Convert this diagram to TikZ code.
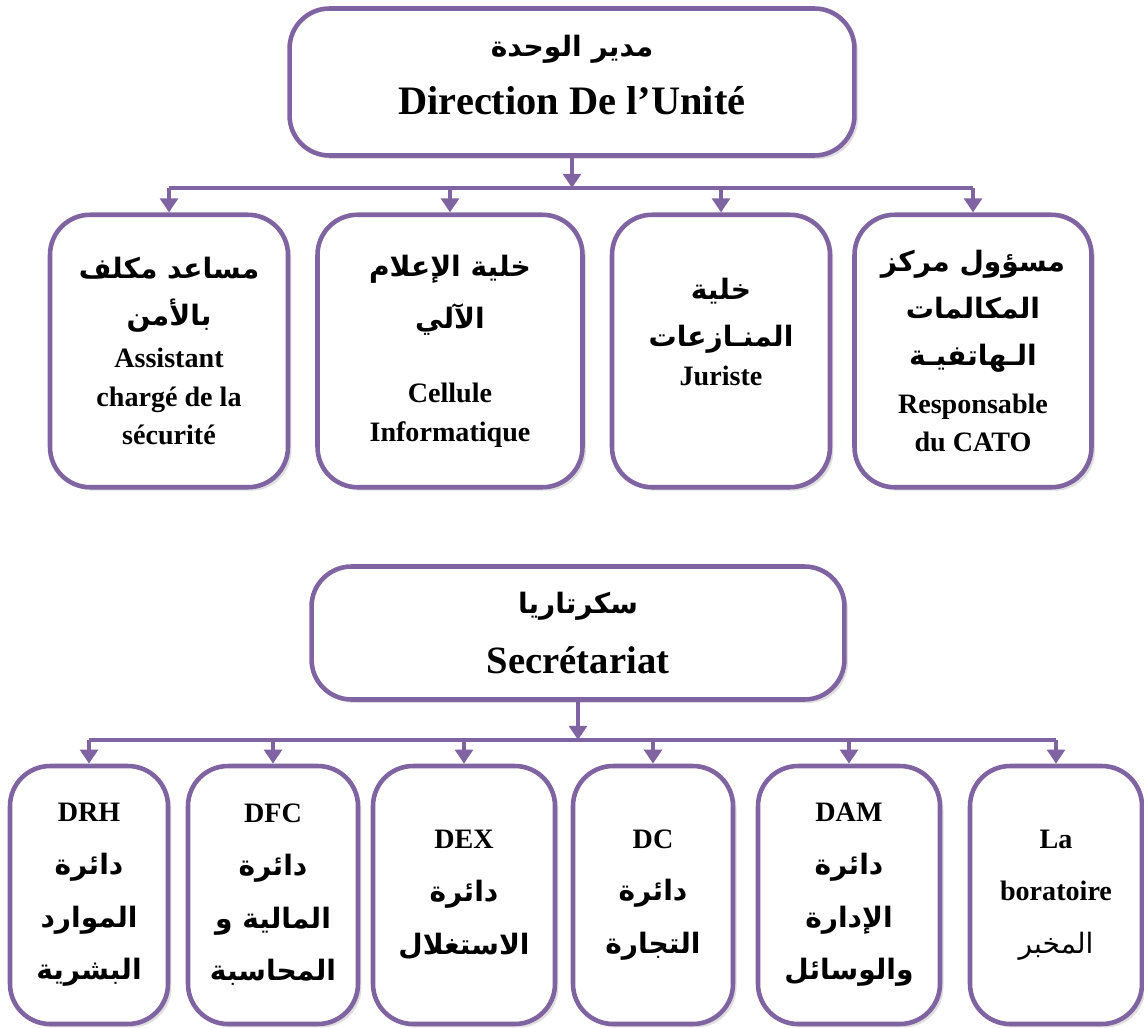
\documentclass[tikz,border=0pt]{standalone}
\usepackage{fontspec}
\setmainfont{Liberation Serif}
\newfontfamily\arabicfont[Script=Arabic]{DejaVu Sans}
\TeXXeTstate=1
\usetikzlibrary{positioning, arrows.meta, shadows}
\definecolor{orgpurple}{HTML}{8064A2}
\newcommand{\artxt}[1]{{\arabicfont\beginR #1\endR}}

\begin{document}
\begin{tikzpicture}[
    x=0.02cm, y=-0.02cm,
    box/.style={draw=orgpurple, line width=2.6pt, rounded corners=0.8cm, fill=white, align=center,
      drop shadow={opacity=0.25, shadow xshift=2pt, shadow yshift=-2pt}},
    head/.style={box, font=\bfseries\fontsize{22}{30}\selectfont},
    unit/.style={box, minimum height=5.45cm, font=\bfseries\fontsize{16}{22}\selectfont},
    dept/.style={box, minimum height=5.16cm, font=\bfseries\fontsize{16}{30}\selectfont},
    link/.style={orgpurple, line width=2.6pt},
    >={Triangle[width=10pt,length=8pt]},
  ]
  \useasboundingbox (0,0) rectangle (1144,1028);

  % direction and its cells
  \node[head, font=\bfseries\fontsize{23}{30}\selectfont, minimum width=11.3cm, minimum height=2.94cm] (dir) at (572,82)
    {{\fontsize{16}{20}\selectfont\artxt{مدير الوحدة}}\\[3pt] Direction De l’Unité\\[-22pt] \mbox{}};

  \node[unit, minimum width=4.76cm] (asst) at (169,351)
    {\artxt{مساعد مكلف}\\[5pt] \artxt{بالأمن}\\[2pt] Assistant\\ chargé de la\\ sécurité};
  \node[unit, minimum width=5.3cm] (info) at (450,351)
    {\artxt{خلية الإعلام}\\[8pt] \artxt{الآلي}\\[20pt] Cellule\\ Informatique};
  \node[unit, minimum width=4.36cm] (jur) at (721,351)
    {\artxt{خلية}\\[5pt] \artxt{المنـازعات}\\ Juriste\\ \mbox{}};
  \node[unit, minimum width=4.74cm] (cato) at (973,351)
    {\artxt{مسؤول مركز}\\[5pt] \artxt{المكالمات}\\[5pt] \artxt{الـهاتفيـة}\\[5pt] Responsable\\ du CATO};

  \coordinate (hubtop) at (572,188);
  \draw[link,->] (dir) -- (hubtop);
  \draw[link] (asst |- hubtop) -- (cato |- hubtop);
  \foreach \n in {asst, info, jur, cato}
    \draw[link,->] (\n |- hubtop) -- (\n.north);

  % secretariat and departments
  \node[head, minimum width=10.66cm, minimum height=2.66cm] (secr) at (578,633)
    {{\fontsize{16}{20}\selectfont\artxt{سكرتاريا}}\\[4pt] Secrétariat};

  \node[dept, minimum width=3.16cm] (drh) at (89,895)
    {DRH\\ \artxt{دائرة}\\ \artxt{الموارد}\\ \artxt{البشرية}};
  \node[dept, minimum width=3.4cm] (dfc) at (273,895)
    {DFC\\ \artxt{دائرة}\\ \artxt{المالية و}\\ \artxt{المحاسبة}};
  \node[dept, minimum width=3.64cm] (dex) at (464,895)
    {DEX\\ \artxt{دائرة}\\ \artxt{الاستغلال}};
  \node[dept, minimum width=3.2cm] (dc) at (653,895)
    {DC\\ \artxt{دائرة}\\ \artxt{التجارة}};
  \node[dept, minimum width=3.64cm] (dam) at (849,895)
    {DAM\\ \artxt{دائرة}\\ \artxt{الإدارة}\\ \artxt{والوسائل}};
  \node[dept, minimum width=3.44cm] (lab) at (1056,895)
    {La\\ boratoire\\ {\mdseries\artxt{المخبر}}};

  \coordinate (hubbot) at (578,740);
  \draw[link,->] (secr) -- (hubbot);
  \draw[link] (drh |- hubbot) -- (lab |- hubbot);
  \foreach \n in {drh, dfc, dex, dc, dam, lab}
    \draw[link,->] (\n |- hubbot) -- (\n.north);
\end{tikzpicture}
\end{document}
